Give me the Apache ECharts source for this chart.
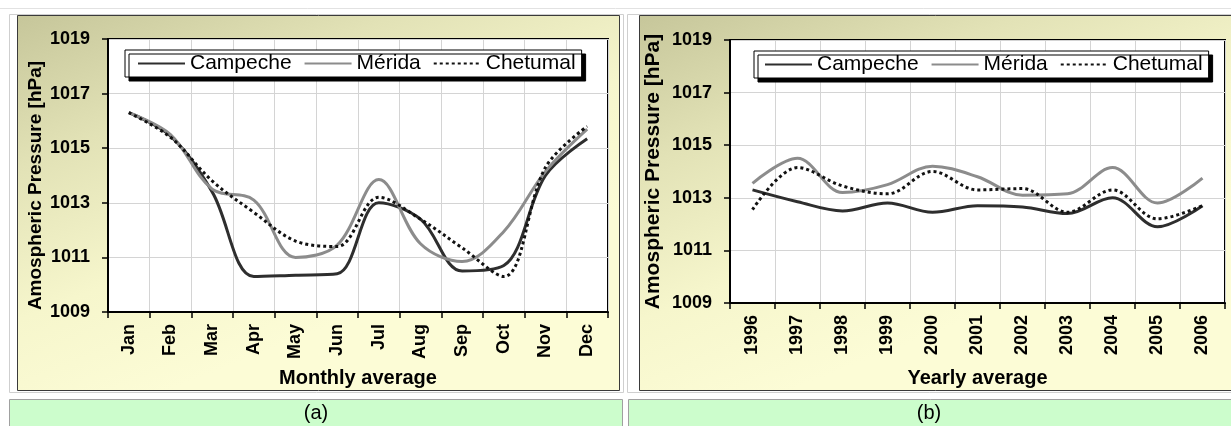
<!DOCTYPE html>
<html>
<head>
<meta charset="utf-8">
<script src="https://cdn.jsdelivr.net/npm/echarts@6/dist/echarts.min.js"></script>
<style>
  html, body { margin: 0; padding: 0; background: #ffffff; }
  #chart { width: 1231px; height: 426px; }
</style>
</head>
<body>
<div id="chart"></div>
<script>
// Categories
const months = ['Jan', 'Feb', 'Mar', 'Apr', 'May', 'Jun', 'Jul', 'Aug', 'Sep', 'Oct', 'Nov', 'Dec'];
const years = ['1996', '1997', '1998', '1999', '2000', '2001', '2002', '2003', '2004', '2005', '2006'];
const seriesNames = ['Campeche', 'Mérida', 'Chetumal'];

// Monthly average pressure [hPa]
const monthlyCampeche = [1016.3, 1015.45, 1013.4, 1010.3, 1010.35, 1010.4, 1013.0, 1012.4, 1010.5, 1010.7, 1014.0, 1015.35];
const monthlyMerida   = [1016.3, 1015.5, 1013.5, 1013.1, 1011.0, 1011.45, 1013.85, 1011.5, 1010.85, 1011.95, 1014.15, 1015.7];
const monthlyChetumal = [1016.3, 1015.4, 1013.8, 1012.65, 1011.6, 1011.4, 1013.2, 1012.4, 1011.35, 1010.3, 1014.3, 1015.8];

// Yearly average pressure [hPa]
const yearlyCampeche = [1013.3, 1012.85, 1012.5, 1012.8, 1012.45, 1012.7, 1012.65, 1012.4, 1013.0, 1011.9, 1012.7];
const yearlyMerida   = [1013.55, 1014.5, 1013.2, 1013.5, 1014.2, 1013.8, 1013.1, 1013.15, 1014.15, 1012.8, 1013.75];
const yearlyChetumal = [1012.55, 1014.15, 1013.45, 1013.15, 1014.0, 1013.3, 1013.35, 1012.45, 1013.3, 1012.2, 1012.7];

// Y axis range
const yMin = 1009, yMax = 1019, yStep = 2;

const FONT = 'Liberation Sans, Arial, sans-serif';
const lineStyles = [
  { color: '#2e2e2e', width: 3, type: 'solid' },
  { color: '#8c8c8c', width: 3, type: 'solid' },
  { color: '#111111', width: 3, type: [3, 3] }
];

const panelFill = {
  type: 'linear', x: 0, y: 0, x2: 0.25, y2: 1,
  colorStops: [
    { offset: 0, color: '#c6c69a' },
    { offset: 0.35, color: '#e2e2b6' },
    { offset: 0.7, color: '#f6f6cc' },
    { offset: 1, color: '#fcfcd6' }
  ]
};

function makeXAxis(gridIndex, data, name, nameGap) {
  return {
    type: 'category', gridIndex: gridIndex, data: data,
    boundaryGap: true,
    name: name, nameLocation: 'middle', nameGap: nameGap,
    nameTextStyle: { fontFamily: FONT, fontWeight: 'bold', fontSize: 20, color: '#000' },
    axisLine: { lineStyle: { color: '#000', width: 2 } },
    axisTick: { show: true, length: 6, lineStyle: { color: '#000', width: 1.5 } },
    axisLabel: { rotate: 90, margin: 12, fontFamily: FONT, fontWeight: 'bold', fontSize: 18, color: '#000', interval: 0 },
    splitLine: { show: true, lineStyle: { color: '#d4d4d4', width: 1 } }
  };
}

function makeYAxis(gridIndex, nameGap, nameSize, namePadding) {
  return {
    type: 'value', gridIndex: gridIndex,
    min: yMin, max: yMax, interval: yStep,
    name: 'Amospheric Pressure [hPa]', nameLocation: 'middle', nameGap: nameGap,
    nameTextStyle: { fontFamily: FONT, fontWeight: 'bold', fontSize: nameSize, color: '#000', padding: namePadding },
    axisLine: { show: true, lineStyle: { color: '#000', width: 2 } },
    axisTick: { show: true, length: 6, lineStyle: { color: '#000', width: 1.5 } },
    axisLabel: {
      margin: 18, fontFamily: FONT, fontWeight: 'bold', fontSize: 18, color: '#000',
      formatter: function (v) { return String(Math.round(v)); }
    },
    splitLine: { show: true, lineStyle: { color: '#d4d4d4', width: 1 } }
  };
}

function makeSeries(name, data, idx, axisIndex) {
  return {
    name: name, type: 'line', data: data,
    xAxisIndex: axisIndex, yAxisIndex: axisIndex,
    smooth: 0.35, symbol: 'none',
    lineStyle: lineStyles[idx],
    itemStyle: { color: lineStyles[idx].color },
    z: 3 + idx
  };
}

function makeLegend(left, top, padLeft) {
  return {
    left: left, top: top, orient: 'horizontal',
    data: seriesNames,
    itemWidth: 47, itemHeight: 12, itemGap: 12,
    padding: [3, 6, 3, padLeft],
    backgroundColor: '#ffffff', borderColor: '#000', borderWidth: 1,
    shadowColor: '#000', shadowBlur: 0, shadowOffsetX: 4, shadowOffsetY: 4,
    selectedMode: false,
    itemStyle: { opacity: 0 },
    textStyle: { fontFamily: FONT, fontSize: 21, color: '#000' }
  };
}

const chart = echarts.init(document.getElementById('chart'), null, { renderer: 'canvas' });

chart.setOption({
  backgroundColor: '#ffffff',
  animation: false,
  graphic: [
    // page rule at the top
    { type: 'line', z: -20, shape: { x1: 0, y1: 8.5, x2: 1231, y2: 8.5 }, style: { stroke: '#e2e2e2', lineWidth: 1 } },
    // left cell frame and panel
    { type: 'rect', z: -20, shape: { x: 9.5, y: 14.5, width: 614, height: 378 }, style: { fill: '#fff', stroke: '#cfcfcf', lineWidth: 1 } },
    { type: 'rect', z: -19, shape: { x: 17.5, y: 15.5, width: 602, height: 375 }, style: { fill: panelFill, stroke: '#3a3a3a', lineWidth: 1 } },
    // right cell frame and panel
    { type: 'rect', z: -20, shape: { x: 627.5, y: 14.5, width: 610, height: 378 }, style: { fill: '#fff', stroke: '#cfcfcf', lineWidth: 1 } },
    { type: 'rect', z: -19, shape: { x: 639.5, y: 15.5, width: 600, height: 375 }, style: { fill: panelFill, stroke: '#3a3a3a', lineWidth: 1 } },
    // caption bars
    { type: 'rect', z: -20, shape: { x: 9.5, y: 399.5, width: 613, height: 40 }, style: { fill: '#ccfdcc', stroke: '#a0a0a0', lineWidth: 1 } },
    { type: 'rect', z: -20, shape: { x: 628.5, y: 399.5, width: 610, height: 40 }, style: { fill: '#ccfdcc', stroke: '#a0a0a0', lineWidth: 1 } },
    { type: 'text', z: 10, x: 316, y: 413, style: { text: '(a)', fontFamily: FONT, fontSize: 20, fill: '#000', textAlign: 'center', textVerticalAlign: 'middle' } },
    { type: 'text', z: 10, x: 929, y: 413, style: { text: '(b)', fontFamily: FONT, fontSize: 20, fill: '#000', textAlign: 'center', textVerticalAlign: 'middle' } }
  ],
  legend: [makeLegend(125, 50, 12), makeLegend(754, 51, 10)],
  grid: [
    { left: 108, top: 39, width: 500, height: 273, show: true, backgroundColor: '#ffffff', borderColor: '#000', borderWidth: 2, containLabel: false },
    { left: 730, top: 40, width: 495, height: 263, show: true, backgroundColor: '#ffffff', borderColor: '#000', borderWidth: 2, containLabel: false }
  ],
  xAxis: [
    makeXAxis(0, months, 'Monthly average', 56),
    makeXAxis(1, years, 'Yearly average', 65)
  ],
  yAxis: [
    makeYAxis(0, 63, 19, [0, 20, 0, 0]),
    makeYAxis(1, 66, 21, 0)
  ],
  series: [
    makeSeries(seriesNames[0], monthlyCampeche, 0, 0),
    makeSeries(seriesNames[1], monthlyMerida, 1, 0),
    makeSeries(seriesNames[2], monthlyChetumal, 2, 0),
    makeSeries(seriesNames[0], yearlyCampeche, 0, 1),
    makeSeries(seriesNames[1], yearlyMerida, 1, 1),
    makeSeries(seriesNames[2], yearlyChetumal, 2, 1)
  ]
});
</script>
</body>
</html>
